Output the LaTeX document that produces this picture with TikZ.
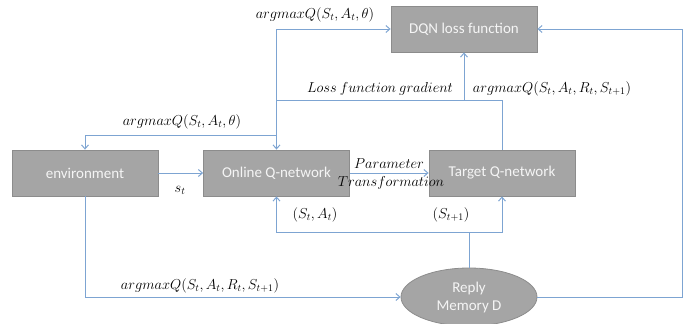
\documentclass[tikz,border=0pt]{standalone}
\usepackage{fontspec}
\setmainfont{Carlito}
\usetikzlibrary{arrows.meta,shapes.geometric}
\definecolor{lineblue}{RGB}{125,164,210}
\definecolor{boxfill}{RGB}{165,165,165}
\definecolor{boxline}{RGB}{140,140,140}
\definecolor{boxtext}{RGB}{245,245,245}
\tikzset{
  blk/.style={draw=boxline, fill=boxfill, text=boxtext, minimum width=146pt, minimum height=46pt, inner sep=0pt, font=\fontsize{15}{17}\selectfont, line width=0.8pt},
  ell/.style={ellipse, draw=boxline, fill=boxfill, text=boxtext, minimum width=136pt, minimum height=58pt, inner sep=0pt, align=center, font=\fontsize{15}{18}\selectfont, line width=0.8pt},
  conn/.style={draw=lineblue, line width=1pt},
  arr/.style={conn, -{Straight Barb[length=4pt,width=7pt]}},
  lbl/.style={inner sep=0pt, font=\fontsize{14.4}{17}\selectfont}
}
\begin{document}
\begin{tikzpicture}[x=1pt,y=-1pt]
\clip (0,0) rectangle (699,324);
\useasboundingbox (0,0) rectangle (699,324);
\node[blk] (env) at (85,173) {environment};
\node[blk] (online) at (276.5,173) {Online Q-network};
\node[blk] (target) at (502,173) {Target Q-network};
\node[blk] (dqn) at (464,29) {DQN loss function};
\node[ell] (mem) at (469,297) {Reply\\Memory D};
\coordinate (j1) at (276.5,29);
\coordinate (j2) at (276.5,135);
\coordinate (j3) at (276.5,100);
\coordinate (j4) at (464,100);
\coordinate (j5) at (469,232);
\coordinate (r) at (682,297);
\draw[arr] (env.east) -- (online.west);
\draw[arr] (j1) -- (dqn.west);
\draw[arr] (j1) -- (online.north);
\draw[arr] (j2) -| (env.north);
\draw[conn] (j3) -| (target.north);
\draw[arr] (j4) -- (dqn.south);
\draw[arr] (online.east) -- (target.west);
\draw[conn] (mem.north) -- (j5);
\draw[arr] (j5) -| (online.south);
\draw[arr] (j5) -| (target.south);
\draw[arr] (env.south) |- (mem.west);
\draw[arr] (mem.east) -- (r) |- (dqn.east);
\node[lbl] (l1) at (315,15) {$argmaxQ(S_t,A_t,\theta)$};
\node[lbl] (l2) at (380,89) {$Loss\ function\ gradient$};
\node[lbl] (l3) at (552,89) {$argmaxQ(S_t,A_t,R_t,S_{t+1})$};
\node[lbl] (l4) at (182,122) {$argmaxQ(S_t,A_t,\theta)$};
\node[lbl] (l5) at (180,190) {$s_t$};
\node[lbl] (l6) at (389,164) {$Parameter$};
\node[lbl] (l7) at (391,183) {$Transformation$};
\node[lbl] (l8) at (315,215) {$(S_t,A_t)$};
\node[lbl] (l9) at (451,215) {$(S_{t+1})$};
\node[lbl] (l10) at (200,286) {$argmaxQ(S_t,A_t,R_t,S_{t+1})$};
\end{tikzpicture}
\end{document}
